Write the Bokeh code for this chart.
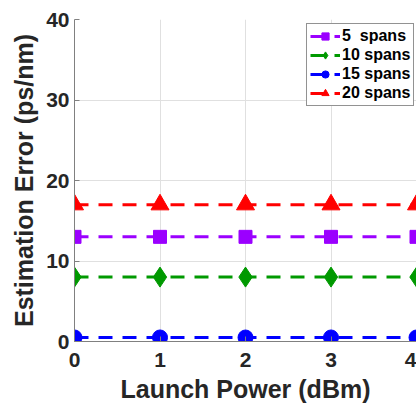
from bokeh.plotting import figure
from bokeh.models import Range1d, Legend, LegendItem, FixedTicker
from bokeh.embed import file_html
from bokeh.resources import INLINE

power = [0, 1, 2, 3, 4]
spans5 = [13, 13, 13, 13, 13]
spans10 = [8, 8, 8, 8, 8]
spans15 = [0.5, 0.5, 0.5, 0.5, 0.5]
spans20 = [17, 17, 17, 17, 17]
labels = ["5  spans", "10 spans", "15 spans", "20 spans"]
x_ticks = [0, 1, 2, 3, 4]
y_ticks = [0, 10, 20, 30, 40]

FONT = "Liberation Sans"

p = figure(width=416, height=405, output_backend="svg", toolbar_location=None,
           x_range=Range1d(0, 4.0), y_range=Range1d(0, 40),
           min_border_left=74, min_border_right=0, min_border_top=19,
           min_border_bottom=62)
p.outline_line_color = None
p.background_fill_color = "white"

for ax in (p.xaxis[0], p.yaxis[0]):
    ax.axis_line_color = "#808080"
    ax.major_tick_line_color = "#808080"
    ax.major_tick_in = 5
    ax.major_tick_out = 0
    ax.minor_tick_line_color = None
    ax.major_label_text_font = FONT
    ax.major_label_text_font_style = "bold"
    ax.major_label_text_font_size = "21px"
    ax.major_label_text_color = "#262626"
    ax.axis_label_text_font = FONT
    ax.axis_label_text_font_style = "bold"
    ax.axis_label_text_font_size = "25px"
    ax.axis_label_text_color = "#262626"

p.xaxis.ticker = FixedTicker(ticks=x_ticks)
p.yaxis.ticker = FixedTicker(ticks=y_ticks)
p.xaxis.axis_label = "Launch Power (dBm)"
p.yaxis.axis_label = "Estimation Error (ps/nm)"
p.xaxis.major_label_standoff = 11
p.yaxis.major_label_standoff = 5
p.xaxis.axis_label_standoff = 5
p.yaxis.axis_label_standoff = 5

p.xgrid.grid_line_color = "#e0e0e0"
p.ygrid.grid_line_color = "#e0e0e0"
p.xgrid.ticker = FixedTicker(ticks=x_ticks)
p.ygrid.ticker = FixedTicker(ticks=y_ticks)

series = [
    (spans5, "#9b00ff", "square", 13),
    (spans10, "#009900", "diamond", 20),
    (spans15, "#0000ff", "circle", 15),
    (spans20, "#ff0000", "triangle", 18),
]
items = []
for (ys, col, mk, sz), lab in zip(series, labels):
    ln = p.line(power, ys, line_color=col, line_width=3, line_dash="14 10")
    sc = p.scatter(power, ys, marker=mk, size=sz, fill_color=col, line_color=col)
    items.append(LegendItem(label=lab, renderers=[ln, sc]))

legend = Legend(items=items, location=(232, 235))
legend.label_text_font = FONT
legend.label_text_font_style = "bold"
legend.label_text_font_size = "16px"
legend.label_text_color = "black"
legend.label_height = 18
legend.glyph_height = 18
legend.glyph_width = 30
legend.label_standoff = 2
legend.spacing = 1
legend.padding = 3
legend.margin = 0
legend.border_line_color = "#262626"
legend.border_line_width = 1
legend.background_fill_alpha = 1.0
p.add_layout(legend)

open("out.html", "w").write(file_html(p, INLINE))
